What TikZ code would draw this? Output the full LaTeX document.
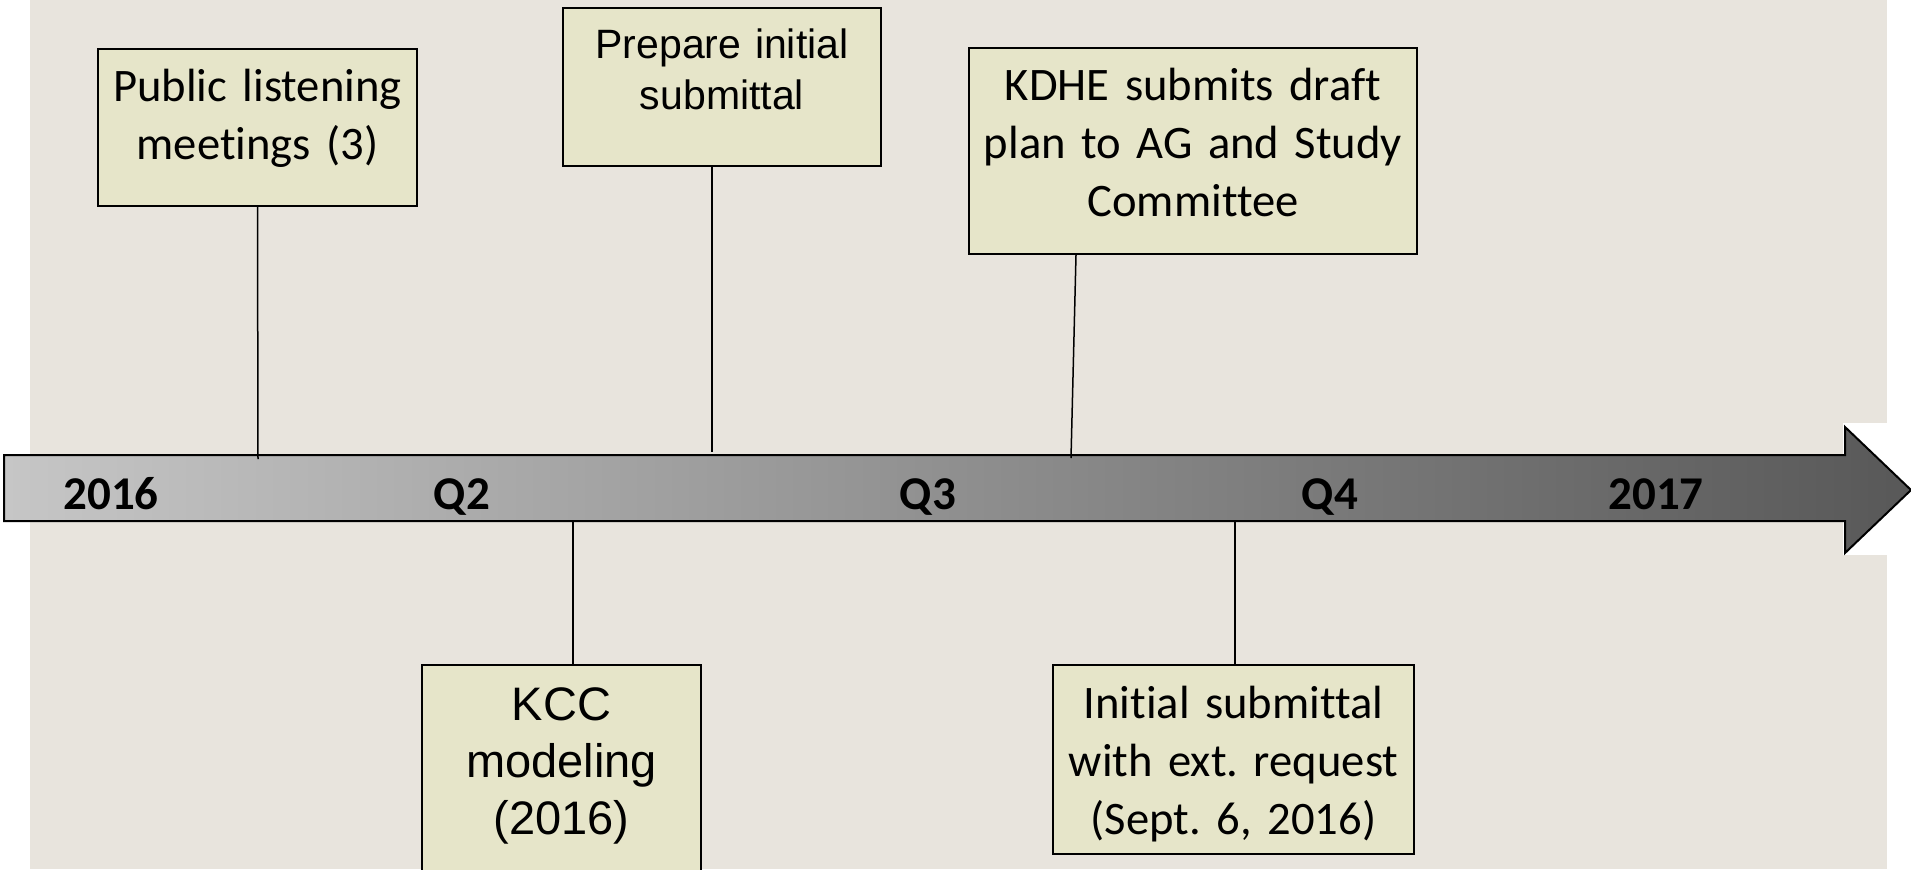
\documentclass[tikz,border=0pt]{standalone}
\usepackage{fontspec}
\setmainfont{Carlito}[Ligatures=NoCommon]
\newfontfamily\arialfont{Liberation Sans}
\definecolor{slide}{RGB}{232,228,221}
\definecolor{note}{RGB}{230,229,201}
\definecolor{barlight}{RGB}{198,198,198}
\definecolor{bardark}{RGB}{88,88,88}
\frenchspacing

\begin{document}
\begin{tikzpicture}[
  x=0.5pt, y=-0.5pt,
  every node/.style={inner sep=0pt},
  box/.style={draw, line width=1pt, fill=note, anchor=north, align=center},
  cal/.style={font=\fontsize{23.3}{29}\selectfont},
  ari/.style={font=\arialfont\fontsize{20.5}{25.5}\selectfont},
  arib/.style={font=\arialfont\fontsize{23.5}{28.5}\selectfont},
  stem/.style={line width=0.75pt},
  qlabel/.style={anchor=base, font=\fontsize{23.5}{28}\selectfont\bfseries}
]
  \useasboundingbox (0,0) rectangle (1911,869);
  \clip (0,0) rectangle (1911,869);
  \fill[slide] (30,0) rectangle (1887,869);
  \fill[white] (1843,423) rectangle (1911,555);

  % timeline bar
  \shadedraw[left color=barlight, right color=bardark, line width=1pt]
    (4,455) -- (1845,455) -- (1845,427) -- (1911,490) -- (1845,553)
    -- (1845,521) -- (4,521) -- cycle;
  \node[qlabel] (y16) at (111,509) {2016};
  \node[qlabel] (q2) at (462,509) {Q2};
  \node[qlabel] (q3) at (928,509) {Q3};
  \node[qlabel] (q4) at (1330,509) {Q4};
  \node[qlabel] (y17) at (1656,509) {2017};

  % points on the bar
  \coordinate (t1) at (258,459);
  \coordinate (t2) at (712,452);
  \coordinate (t3) at (1071,458);
  \coordinate (t4) at (573,522);
  \coordinate (t5) at (1235,522);

  % boxes above
  \node[box, cal, text width=159.5pt, text height=26pt, text depth=52.5pt]
    (pub) at (257.5,48) {Public listening\\meetings (3)};
  \node[box, ari, text width=159pt, text height=25pt, text depth=54pt]
    (prep) at (722,7) {Prepare initial\\submittal};
  \node[box, cal, text width=224pt, text height=26pt, text depth=77pt]
    (kdhe) at (1193,47) {KDHE submits draft\\plan to AG and Study\\Committee};

  % boxes below
  \node[box, arib, text width=139.5pt, text height=27.5pt, text depth=80pt]
    (kcc) at (561.5,664) {KCC\\modeling\\(2016)};
  \node[box, cal, text width=180.5pt, text height=26.5pt, text depth=68pt]
    (init) at (1233.5,664) {Initial submittal\\with ext. request\\(Sept. 6, 2016)};

  \draw[stem] (pub.south) -- (t1);
  \draw[stem] (prep.south -| t2) -- (t2);
  \draw[stem] ([xshift=-58.5pt]kdhe.south) -- (t3);
  \draw[stem] (kcc.north -| t4) -- (t4);
  \draw[stem] (init.north -| t5) -- (t5);
\end{tikzpicture}
\end{document}
